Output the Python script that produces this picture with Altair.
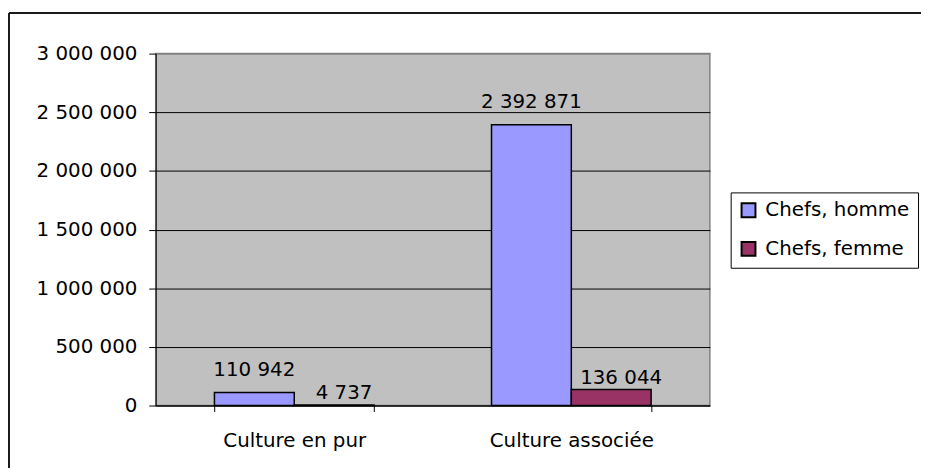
import altair as alt
import pandas as pd

categories = ["Culture en pur", "Culture associée"]
series = ["Chefs, homme", "Chefs, femme"]
homme = [110942, 2392871]
femme = [4737, 136044]
colors = ["#9999FF", "#993366"]
y_ticks = [0, 500000, 1000000, 1500000, 2000000, 2500000, 3000000]

rows = []
for i, c in enumerate(categories):
    rows.append({"cat": c, "serie": series[0], "val": homme[i]})
    rows.append({"cat": c, "serie": series[1], "val": femme[i]})
df = pd.DataFrame(rows)

FONT = "DejaVu Sans"
FS = 20

base = alt.Chart(df)

x = alt.X(
    "cat:N", sort=categories,
    scale=alt.Scale(paddingInner=0.424, paddingOuter=0.212),
    axis=alt.Axis(title=None, labelAngle=0, tickBand="extent", domainColor="black",
                  domainWidth=1, tickColor="black", tickSize=6, labelPadding=19,
                  labelFont=FONT, labelFontSize=FS, labelColor="black", grid=False),
)
y = alt.Y(
    "val:Q",
    scale=alt.Scale(domain=[0, 3000000], nice=False),
    axis=alt.Axis(title=None, values=y_ticks, format=",d", grid=True,
                  gridColor={"condition": {"test": "datum.value === 3000000", "value": "#808080"},
                             "value": "black"},
                  gridWidth=1, domainColor="black", tickColor="black", tickSize=7,
                  labelPadding=12, labelFont=FONT, labelFontSize=FS, labelColor="black"),
)
xoff = alt.XOffset("serie:N", sort=series, scale=alt.Scale(paddingInner=0, paddingOuter=0))
color = alt.Color(
    "serie:N", sort=series,
    scale=alt.Scale(domain=series, range=colors),
    legend=alt.Legend(orient="none", legendX=580, legendY=140, title=None,
                      strokeColor="black", fillColor="white", padding=8, rowPadding=17,
                      symbolType="square", symbolSize=196, symbolStrokeColor="black",
                      symbolStrokeWidth=2, labelFont=FONT, labelFontSize=FS,
                      labelColor="black", labelOffset=7),
)

bars = base.mark_bar(stroke="black", strokeWidth=1.5).encode(x=x, y=y, xOffset=xoff, color=color)

txt_h = base.transform_filter(alt.datum.serie == series[0]).mark_text(
    baseline="alphabetic", dy=-17, font=FONT, fontSize=FS, color="black"
).encode(x=x, y=y, xOffset=xoff, text=alt.Text("val:Q", format=",d"))

txt_f = base.transform_filter(alt.datum.serie == series[1]).mark_text(
    baseline="alphabetic", dy=-6, dx=10, font=FONT, fontSize=FS, color="black"
).encode(x=x, y=y, xOffset=xoff, text=alt.Text("val:Q", format=",d"))

frame = pd.DataFrame({"k": [0]})
top_line = alt.Chart(frame).mark_rule(color="#1a1a1a", strokeWidth=2).encode(
    x=alt.value(-148), x2=alt.value(900), y=alt.value(-41))
left_line = alt.Chart(frame).mark_rule(color="#1a1a1a", strokeWidth=2).encode(
    x=alt.value(-148), y=alt.value(-41), y2=alt.value(500))

chart = alt.layer(top_line, left_line, bars, txt_h, txt_f).properties(
    width=559, height=355,
    autosize=alt.AutoSizeParams(type="none"),
    padding={"left": 149, "top": 44, "right": 213, "bottom": 61},
).configure(
    locale={"number": {"decimal": ",", "thousands": " ", "grouping": [3], "currency": ["", " €"]}},
    view={"fill": "#C0C0C0", "stroke": "#808080", "strokeWidth": 1.5},
)

chart.save("out.html", embed_options={"renderer": "svg", "actions": False})
